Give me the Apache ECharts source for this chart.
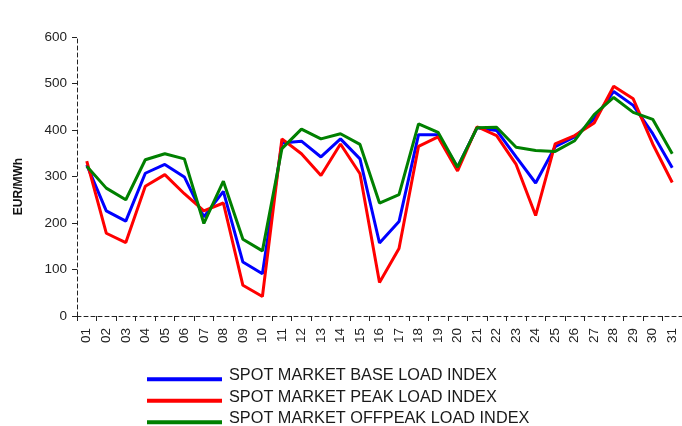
<!DOCTYPE html>
<html><head><meta charset="utf-8">
<script src="https://cdn.jsdelivr.net/npm/echarts@6/dist/echarts.min.js"></script>
<style>html,body{margin:0;padding:0;background:#fff}#c{width:682px;height:426px}</style>
</head><body><div id="c"></div>
<script>
const days = ['01','02','03','04','05','06','07','08','09','10','11','12','13','14','15','16','17','18','19','20','21','22','23','24','25','26','27','28','29','30','31'];
const baseLoad = [325,226,204,307,326,299,213,268,116,91,372,376,342,381,338,157,203,390,390,320,405,399,342,286,364,385,424,483,453,392,319];
const peakLoad = [333,178,158,279,304,263,226,243,66,42,381,349,302,370,306,72,145,365,385,312,407,388,326,216,370,388,415,494,467,370,287];
const offpeakLoad = [322,275,250,336,349,338,199,290,165,140,360,402,381,392,369,243,261,413,395,320,405,406,363,356,354,377,433,470,438,423,349];
const yTicks = {min:0, max:600, interval:100};

const chart = echarts.init(document.getElementById('c'), null, {renderer:'canvas'});
const font = 'Liberation Sans, Arial, sans-serif';
const mk = (name, data, color) => ({
  name, type:'line', data, symbol:'none', smooth:false,
  lineStyle:{color, width:3}, itemStyle:{color}
});
chart.setOption({
  animation:false,
  backgroundColor:'#fff',
  grid:{left:77, right:0, top:37, bottom:110, containLabel:false},
  legend:{
    orient:'vertical', left:147, top:367.3, height:100, padding:0,
    itemWidth:75, itemHeight:11, itemGap:4.5,
    icon:'path://M0,0L0.01,0L0,0.01Z M0,7L75,7L75,11L0,11Z',
    textStyle:{fontFamily:font, fontSize:16.3, lineHeight:17, color:'#1a1a1a', padding:[0,0,0,2]},
    data:['SPOT MARKET BASE LOAD INDEX','SPOT MARKET PEAK LOAD INDEX','SPOT MARKET OFFPEAK LOAD INDEX']
  },
  xAxis:{
    type:'category', data:days, boundaryGap:true,
    axisLine:{lineStyle:{color:'#222', type:[4,3], width:1}},
    axisTick:{show:true, length:5, lineStyle:{color:'#222', type:'solid'}},
    axisLabel:{rotate:90, fontFamily:font, fontSize:13.5, color:'#222', margin:12}
  },
  yAxis:{
    type:'value', min:yTicks.min, max:yTicks.max, interval:yTicks.interval,
    name:'EUR/MWh', nameLocation:'middle', nameGap:52, nameRotate:90,
    nameTextStyle:{fontFamily:font, fontSize:12, fontWeight:'bold', color:'#111', padding:[0,0,0,-20]},
    axisLine:{show:true, lineStyle:{color:'#222', type:[4,3], width:1}},
    axisTick:{show:true, length:5, lineStyle:{color:'#222'}},
    splitLine:{show:false},
    axisLabel:{fontFamily:font, fontSize:13.5, color:'#222', margin:10}
  },
  series:[
    mk('SPOT MARKET BASE LOAD INDEX', baseLoad, '#0000ff'),
    mk('SPOT MARKET PEAK LOAD INDEX', peakLoad, '#ff0000'),
    mk('SPOT MARKET OFFPEAK LOAD INDEX', offpeakLoad, '#008000')
  ]
});
</script></body></html>
